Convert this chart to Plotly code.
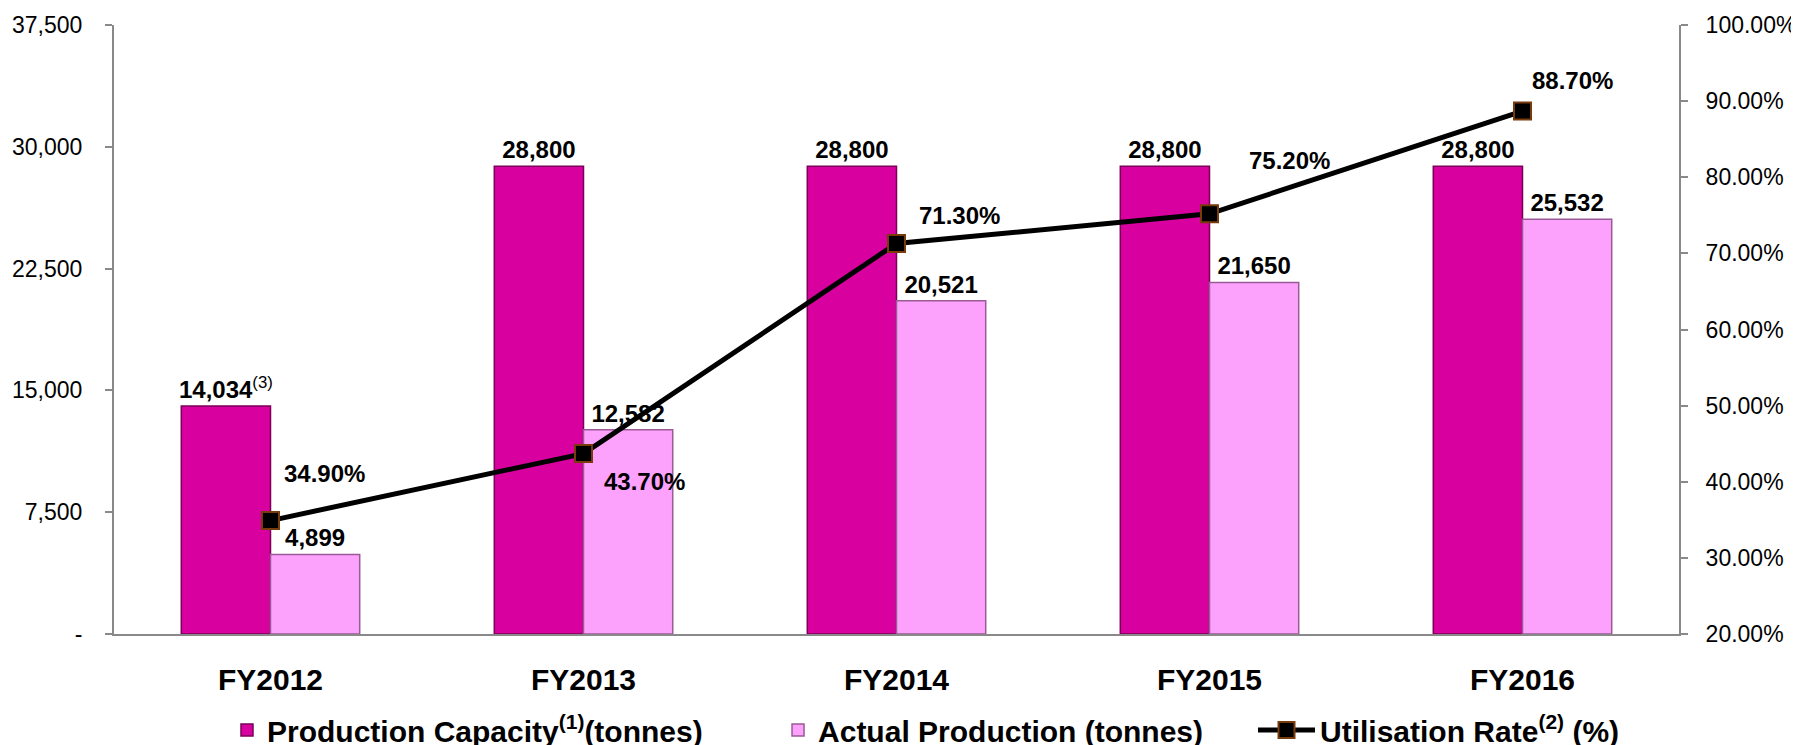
import plotly.graph_objects as go

categories = ["FY2012", "FY2013", "FY2014", "FY2015", "FY2016"]
capacity = [14034, 28800, 28800, 28800, 28800]
actual = [4899, 12582, 20521, 21650, 25532]
utilisation = [34.9, 43.7, 71.3, 75.2, 88.7]
capacity_notes = ["(3)", "", "", "", ""]

left_ticks = [0, 7500, 15000, 22500, 30000, 37500]
left_ticktext = ["-", "7,500", "15,000", "22,500", "30,000", "37,500"]
right_ticks = [20, 30, 40, 50, 60, 70, 80, 90, 100]
right_ticktext = [f"{v:.2f}%" for v in right_ticks]

# label offsets (pixels) for utilisation labels
util_dx = [54, 61, 63, 80, 50]
util_dy = [47, -28, 28, 53, 31]

FONT = "Liberation Sans, Arial, sans-serif"

cap_text = [f"<b>{v:,}</b>" + (f"<sup>{n}</sup>" if n else "") for v, n in zip(capacity, capacity_notes)]
act_text = [f"<b>{v:,}</b>" for v in actual]

fig = go.Figure()
fig.add_trace(go.Bar(
    x=categories, y=capacity, name="Production Capacity<sup>(1)</sup>(tonnes)",
    marker=dict(color="#D8009E", line=dict(color="#7A0058", width=1.5)),
    text=cap_text, textposition="outside", cliponaxis=False, constraintext="none",
    textfont=dict(family=FONT, size=24, color="#000000"),
    legend="legend",
))
fig.add_trace(go.Bar(
    x=categories, y=actual, name="Actual Production (tonnes)",
    marker=dict(color="#FCA2FC", line=dict(color="#9A5A96", width=1.5)),
    text=act_text, textposition="outside", cliponaxis=False, constraintext="none",
    textfont=dict(family=FONT, size=24, color="#000000"),
    legend="legend2",
))
fig.add_trace(go.Scatter(
    x=categories, y=utilisation, yaxis="y2", name="Utilisation Rate<sup>(2)</sup> (%)",
    mode="lines+markers",
    line=dict(color="#000000", width=5),
    marker=dict(symbol="square", size=17, color="#000000", line=dict(color="#7A3B0A", width=2)),
    cliponaxis=False,
    legend="legend3",
))

for c, v, dx, dy in zip(categories, utilisation, util_dx, util_dy):
    fig.add_annotation(
        x=c, y=v, xref="x", yref="y2", text=f"<b>{v:.2f}%</b>", showarrow=False,
        xshift=dx, yshift=dy, font=dict(family=FONT, size=24, color="#000000"),
    )

legend_font = dict(family=FONT, size=30, color="#000000", weight="bold")
legend_common = dict(orientation="h", xanchor="left", y=-0.1576, yanchor="middle",
                     font=legend_font, bgcolor="rgba(0,0,0,0)", borderwidth=0)

fig.update_layout(
    width=1799, height=760,
    margin=dict(l=106, r=128, t=17, b=134),
    paper_bgcolor="white", plot_bgcolor="white",
    barmode="group", bargap=0.43, bargroupgap=0,
    font=dict(family=FONT, size=24, color="#000000"),
    showlegend=True,
    legend=dict(x=0.0722, **legend_common),
    legend2=dict(x=0.4243, **legend_common),
    legend3=dict(x=0.7278, itemwidth=57, **legend_common),
    xaxis=dict(
        showline=True, linecolor="#898989", linewidth=2, ticks="",
        tickfont=dict(family=FONT, size=30, color="#000000", weight="bold"),
        ticklabelstandoff=18, showgrid=False, zeroline=False, automargin=False,
    ),
    yaxis=dict(
        range=[0, 37500], tickvals=left_ticks, ticktext=left_ticktext,
        showline=True, linecolor="#898989", linewidth=2,
        ticks="outside", ticklen=7, tickcolor="#898989", tickwidth=2,
        tickfont=dict(family=FONT, size=23, color="#000000"),
        ticklabelstandoff=18, showgrid=False, zeroline=False, automargin=False,
    ),
    yaxis2=dict(
        range=[20, 100], tickvals=right_ticks, ticktext=right_ticktext,
        overlaying="y", side="right",
        showline=True, linecolor="#898989", linewidth=2,
        ticks="outside", ticklen=7, tickcolor="#898989", tickwidth=2,
        tickfont=dict(family=FONT, size=23, color="#000000"),
        ticklabelstandoff=13, showgrid=False, zeroline=False, automargin=False,
    ),
)

fig.write_html("out.html")
